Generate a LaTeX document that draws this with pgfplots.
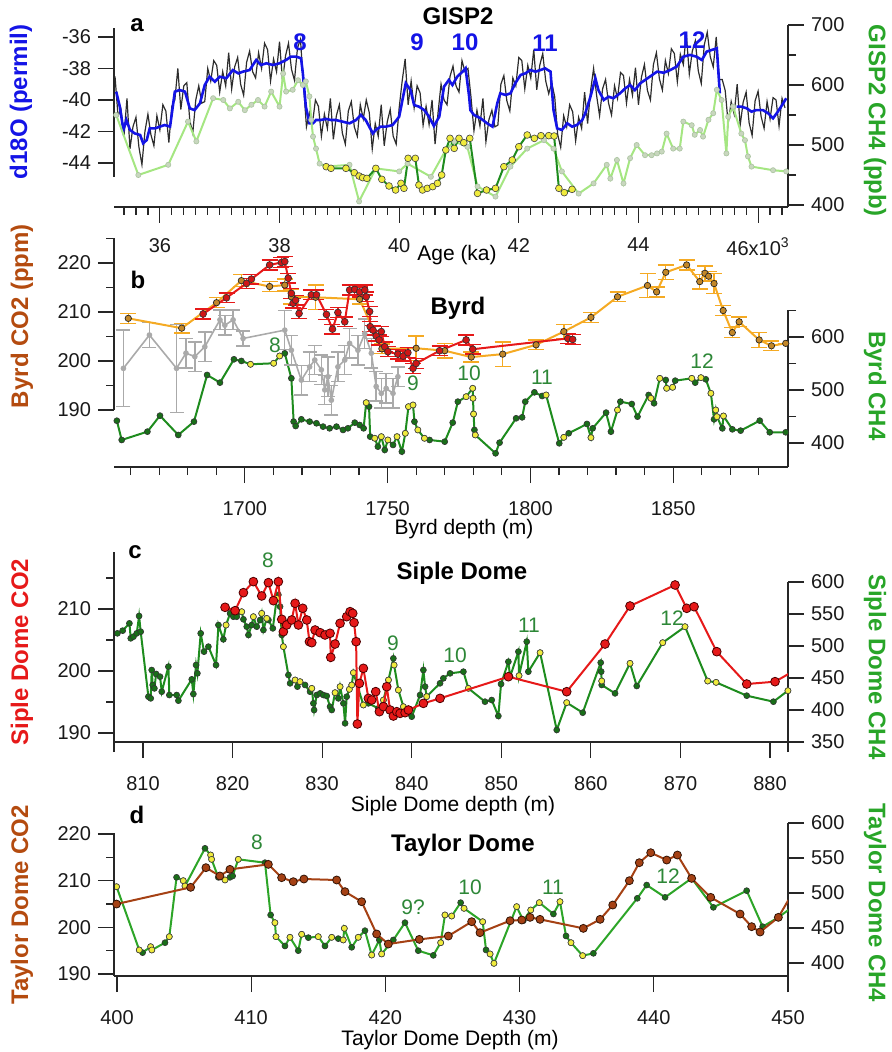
\documentclass[border=0pt]{standalone}
\usepackage{fontspec}
\setmainfont{Liberation Sans}
\usepackage{pgfplots}
\pgfplotsset{compat=1.18}
\definecolor{dblue}{RGB}{20,20,230}
\definecolor{noise}{RGB}{45,45,45}
\definecolor{lgreen}{RGB}{165,230,130}
\definecolor{lgmark}{RGB}{200,215,190}
\definecolor{lgedge}{RGB}{170,195,160}
\definecolor{dgreen}{RGB}{30,140,30}
\definecolor{dgmark}{RGB}{25,110,25}
\definecolor{ymark}{RGB}{240,235,60}
\definecolor{orng}{RGB}{245,170,35}
\definecolor{ormark}{RGB}{195,135,40}
\definecolor{rred}{RGB}{230,25,25}
\definecolor{gry}{RGB}{170,170,170}
\definecolor{brn}{RGB}{165,65,20}
\definecolor{brnlab}{RGB}{180,75,15}
\definecolor{labgreen}{RGB}{40,165,40}
\definecolor{numgreen}{RGB}{45,135,55}
\definecolor{tgreen}{RGB}{45,165,40}
\pgfplotsset{
  base/.style={scale only axis, width=337pt, tick align=outside,
    major tick length=8pt, minor tick length=4pt,
    every tick/.style={black!85, line width=0.6pt},
    axis line style={black!85, line width=0.6pt},
    tick label style={font=\fontsize{10}{12}\selectfont, black!90},
    /pgf/number format/assume math mode=true,
    /pgf/number format/1000 sep={}},
  lax/.style={base, axis x line*=bottom, axis y line*=left, xticklabel style={yshift=-4pt}},
  rax/.style={base, axis x line=none, axis y line*=right},
  dg/.style={dgreen, line width=1pt, mark=*, mark size=1.5pt, mark options={fill=dgmark, draw=black!80, line width=0.3pt}},
  ym/.style={only marks, mark=*, mark size=1.5pt, mark options={fill=ymark, draw=black!75, line width=0.3pt}},
}
\begin{document}
\begin{tikzpicture}
\useasboundingbox (0,0) rectangle (445.5pt,-526pt);
% ================= panel a =================
\begin{axis}[lax, at={(57pt,-103.5pt)}, anchor=south west, height=91pt,
  xmin=35.233, xmax=46.5, ymin=-46.79, ymax=-35.24,
  xtick={36,38,...,46}, xticklabels={36,38,40,42,44,{46x10\textsuperscript{3}}},
  minor xtick={35.4,35.6,...,46.4},
  ytick={-44,-42,-40,-38,-36},
  y axis line style={shorten <=15pt, shorten >=1.5pt}]
\addplot[noise, line width=0.6pt] coordinates {(35.25,-38.5)(35.30,-41.0)(35.35,-40.6)(35.40,-42.3)(35.45,-39.9)(35.50,-43.1)(35.55,-41.7)(35.60,-41.1)(35.65,-43.0)(35.70,-44.1)(35.75,-42.0)(35.80,-40.9)(35.85,-42.2)(35.90,-42.9)(35.95,-41.0)(36.00,-41.9)(36.05,-40.3)(36.10,-40.7)(36.15,-42.7)(36.20,-40.4)(36.25,-40.0)(36.30,-38.0)(36.35,-40.6)(36.40,-39.1)(36.45,-38.9)(36.50,-41.3)(36.55,-42.1)(36.60,-40.0)(36.65,-39.1)(36.70,-40.2)(36.75,-40.1)(36.80,-38.0)(36.85,-38.8)(36.90,-37.5)(36.95,-37.8)(37.00,-39.5)(37.05,-38.2)(37.10,-39.1)(37.15,-37.0)(37.20,-39.3)(37.25,-37.9)(37.30,-37.3)(37.35,-39.0)(37.40,-39.7)(37.45,-37.6)(37.50,-36.9)(37.55,-38.2)(37.60,-38.6)(37.65,-37.0)(37.70,-38.0)(37.75,-36.4)(37.80,-36.8)(37.85,-38.8)(37.90,-37.4)(37.95,-38.2)(38.00,-36.3)(38.05,-38.8)(38.10,-37.2)(38.15,-36.4)(38.20,-38.05)(38.25,-38.75)(38.30,-36.7)(38.35,-36.15)(38.40,-39.0)(38.45,-41.7)(38.50,-40.8)(38.55,-41.5)(38.60,-40.0)(38.65,-40.4)(38.70,-42.3)(38.75,-40.9)(38.80,-41.8)(38.85,-39.9)(38.90,-42.5)(38.95,-41.0)(39.00,-40.3)(39.05,-42.1)(39.10,-42.8)(39.15,-40.7)(39.20,-40.1)(39.25,-41.7)(39.30,-42.3)(39.35,-40.3)(39.40,-41.2)(39.45,-40.0)(39.50,-40.8)(39.55,-43.1)(39.60,-41.5)(39.65,-42.3)(39.70,-40.3)(39.75,-42.9)(39.80,-41.4)(39.85,-40.6)(39.90,-42.3)(39.95,-42.8)(40.00,-40.5)(40.05,-38.8)(40.10,-37.4)(40.15,-40.3)(40.20,-38.8)(40.25,-40.5)(40.30,-39.1)(40.35,-39.55)(40.40,-41.6)(40.45,-40.4)(40.50,-41.56)(40.55,-40.0)(40.60,-42.8)(40.65,-40.8)(40.70,-39.0)(40.75,-40.0)(40.80,-40.3)(40.85,-38.5)(40.90,-37.85)(40.95,-39.1)(41.00,-39.5)(41.05,-37.5)(41.10,-38.2)(41.15,-38.0)(41.20,-39.8)(41.25,-41.95)(41.30,-40.65)(41.35,-41.65)(41.40,-39.9)(41.45,-42.65)(41.50,-41.25)(41.55,-40.65)(41.60,-41.7)(41.65,-41.6)(41.70,-39.0)(41.75,-38.45)(41.80,-40.05)(41.85,-40.7)(41.90,-38.6)(41.95,-39.1)(42.00,-37.3)(42.05,-37.5)(42.10,-39.3)(42.15,-37.8)(42.20,-38.6)(42.25,-36.8)(42.30,-39.35)(42.35,-37.8)(42.40,-37.05)(42.45,-38.8)(42.50,-39.6)(42.55,-38.9)(42.60,-39.8)(42.65,-42.2)(42.70,-43.0)(42.75,-41.0)(42.80,-41.7)(42.85,-40.3)(42.90,-40.75)(42.95,-42.6)(43.00,-41.1)(43.05,-41.8)(43.10,-39.5)(43.15,-41.5)(43.20,-39.4)(43.25,-38.0)(43.30,-39.7)(43.35,-41.0)(43.40,-39.3)(43.45,-38.7)(43.50,-40.2)(43.55,-40.95)(43.60,-39.1)(43.65,-39.9)(43.70,-38.25)(43.75,-38.45)(43.80,-40.2)(43.85,-38.7)(43.90,-39.7)(43.95,-37.95)(44.00,-40.3)(44.05,-38.55)(44.10,-37.75)(44.15,-39.4)(44.20,-40.0)(44.25,-37.75)(44.30,-37.0)(44.35,-38.65)(44.40,-39.37)(44.45,-37.5)(44.50,-38.32)(44.55,-36.75)(44.60,-37.05)(44.65,-38.85)(44.70,-37.1)(44.75,-37.75)(44.80,-35.8)(44.85,-38.35)(44.90,-36.9)(44.95,-36.25)(45.00,-38.15)(45.05,-38.95)(45.10,-36.5)(45.15,-35.7)(45.20,-37.25)(45.25,-37.9)(45.30,-36.0)(45.35,-38.7)(45.40,-38.7)(45.45,-39.4)(45.50,-41.5)(45.55,-40.1)(45.60,-40.9)(45.65,-39.0)(45.70,-41.6)(45.75,-40.15)(45.80,-39.5)(45.85,-41.45)(45.90,-42.25)(45.95,-40.05)(46.00,-39.44)(46.05,-41.04)(46.10,-41.8)(46.15,-40.1)(46.20,-41.2)(46.25,-39.85)(46.30,-40.0)(46.35,-41.65)(46.40,-39.9)(46.45,-40.5)};
\addplot[dblue, line width=1.3pt] coordinates {(35.27,-39.47)(35.33,-40.42)(35.39,-41.90)(35.44,-41.27)(35.50,-41.90)(35.58,-42.12)(35.67,-42.22)(35.72,-42.75)(35.78,-42.54)(35.83,-41.80)(35.92,-41.80)(36.00,-41.69)(36.08,-41.59)(36.17,-41.69)(36.25,-39.47)(36.33,-39.37)(36.42,-39.47)(36.50,-40.53)(36.58,-40.64)(36.67,-40.21)(36.75,-39.05)(36.83,-38.52)(36.92,-38.84)(37.00,-38.52)(37.11,-38.62)(37.22,-38.10)(37.31,-38.31)(37.39,-38.20)(37.50,-38.10)(37.61,-37.46)(37.69,-37.78)(37.78,-37.67)(37.89,-37.78)(38.00,-37.67)(38.11,-37.46)(38.19,-37.25)(38.28,-37.25)(38.36,-37.35)(38.39,-38.31)(38.44,-40.42)(38.50,-41.48)(38.56,-41.48)(38.61,-41.27)(38.69,-41.27)(38.78,-41.20)(38.86,-41.27)(38.94,-41.27)(39.06,-41.38)(39.17,-41.48)(39.28,-41.27)(39.36,-40.95)(39.44,-41.27)(39.56,-42.12)(39.61,-41.90)(39.69,-41.69)(39.78,-41.69)(39.89,-41.59)(40.00,-41.06)(40.11,-38.94)(40.19,-39.37)(40.25,-40.32)(40.33,-40.42)(40.42,-40.64)(40.50,-41.06)(40.58,-41.65)(40.67,-41.06)(40.75,-39.15)(40.83,-38.73)(40.89,-39.05)(40.97,-38.52)(41.06,-38.20)(41.11,-37.99)(41.17,-39.79)(41.19,-40.64)(41.25,-40.95)(41.36,-41.16)(41.47,-41.48)(41.56,-41.69)(41.64,-40.21)(41.69,-39.58)(41.78,-39.68)(41.86,-39.58)(41.94,-38.94)(42.03,-38.41)(42.11,-38.31)(42.19,-38.10)(42.28,-38.20)(42.36,-38.10)(42.44,-37.99)(42.53,-38.20)(42.58,-40.64)(42.64,-41.80)(42.72,-41.90)(42.81,-41.48)(42.89,-41.69)(42.97,-41.59)(43.06,-41.27)(43.11,-40.85)(43.19,-39.89)(43.28,-38.62)(43.33,-39.37)(43.42,-40.00)(43.50,-39.79)(43.58,-39.89)(43.69,-39.58)(43.78,-39.26)(43.86,-39.05)(43.94,-39.37)(44.03,-38.94)(44.11,-38.73)(44.19,-38.52)(44.31,-38.20)(44.42,-38.27)(44.53,-38.10)(44.64,-37.88)(44.75,-37.25)(44.86,-37.14)(44.97,-37.25)(45.06,-37.46)(45.14,-36.93)(45.22,-36.83)(45.31,-36.72)(45.36,-39.58)};
\addplot[dblue, line width=1.3pt] coordinates {(45.64,-40.42)(45.72,-40.42)(45.81,-40.53)(45.89,-40.74)(45.97,-40.64)(46.08,-40.64)(46.17,-40.85)(46.25,-41.16)(46.33,-40.74)(46.42,-40.21)(46.47,-39.89)};
\end{axis}
\begin{axis}[rax, at={(57pt,-103.5pt)}, anchor=south west, height=91pt,
  xmin=35.233, xmax=46.5, ymin=396.7, ymax=700,
  ytick={400,500,600,700}, minor ytick={450,550,650}]
\addplot[lgreen, line width=1pt, mark=*, mark size=1.3pt, mark options={fill=lgmark, draw=lgedge, line width=0.3pt}] coordinates {(35.27,550)(35.64,450)(36.14,467)(36.47,539)(36.61,506)(36.89,578)(37.06,575)(37.17,561)(37.31,572)(37.42,558)(37.53,567)(37.64,575)(37.75,564)(37.86,589)(38.00,564)(38.06,619)(38.11,589)(38.22,592)(38.31,608)(38.39,600)(38.44,606)(38.50,581)(38.53,542)(38.56,514)(38.61,494)(38.67,469)(38.78,464)(39.17,467)(39.33,406)(39.61,461)(40.00,456)(40.14,469)(40.53,447)(40.78,492)(40.92,506)(41.14,497)(41.31,431)(41.61,414)(41.86,464)(42.14,494)(42.42,508)(42.58,494)(42.72,456)(43.00,419)(43.25,436)(43.47,467)(43.53,444)(43.64,475)(43.75,436)(43.86,478)(43.97,500)(44.11,483)(44.22,483)(44.31,486)(44.39,489)(44.47,519)(44.58,494)(44.69,494)(44.75,539)(44.89,533)(44.94,517)(45.03,525)(45.08,514)(45.17,542)(45.25,553)(45.31,592)(45.39,575)(45.47,486)(45.50,547)(45.58,564)(45.72,519)(45.78,508)(45.83,481)(45.89,464)(46.25,458)(46.47,456)};
\addplot[dgreen, line width=1pt, mark=*, mark size=1.7pt, mark options={fill=ymark, draw=black!75, line width=0.3pt}] coordinates {(38.78,463.9)(38.86,461.1)(39.11,461.1)(39.25,453.9)(39.33,448.3)(39.39,445.6)(39.46,444.4)(39.61,461.1)(39.71,442.8)(39.83,431.7)(39.94,425.0)(40.03,436.1)(40.08,427.8)(40.15,477.8)(40.27,477.8)(40.33,433.3)(40.39,425.0)(40.47,427.8)(40.56,430.6)(40.64,436.1)(40.71,450.0)(40.78,491.7)(40.85,511.1)(40.92,494.4)(41.00,511.1)(41.08,503.9)(41.18,511.1)(41.31,419.4)(41.46,425.0)(41.61,427.8)(41.75,463.9)(41.89,475.0)(42.00,497.2)(42.14,516.7)(42.26,511.1)(42.37,515.6)(42.50,515.6)(42.59,515.0)(42.67,427.8)(42.76,420.6)(42.89,426.1)};
\end{axis}
% ================= panel b =================
\begin{axis}[rax, at={(57pt,-233.5pt)}, anchor=south west, height=114.5pt,
  xmin=1654.2, xmax=1890.2, ymin=354.7, ymax=786.8,
  ytick={400,500,600}, minor ytick={350,450,550,650},
  y axis line style={shorten >=36pt}]
\addplot[dg] coordinates {(1655.2,442)(1656.9,405.7)(1665.9,421.4)(1670.3,451.6)(1676.7,415.1)(1682.2,440.3)(1686.8,528.4)(1691.3,513.9)(1696.2,557.9)(1698.8,554.8)(1702.0,548.5)(1710.1,550.4)(1712.2,564.2)(1714.0,569.2)(1716.3,522.1)(1717.1,440.3)(1717.8,432)(1719.8,444.7)(1722.7,440.3)(1725.1,437.2)(1727.4,430.9)(1729.7,427.7)(1732.1,430.9)(1734.4,424.6)(1736.1,427.7)(1738.5,438.4)(1740.2,434.0)(1741.6,427.7)(1742.5,476.1)(1743.5,468.6)(1743.9,412.0)(1745.5,408.9)(1746.6,393.1)(1747.8,412.0)(1749.0,386.8)(1750.1,405.7)(1751.9,396.3)(1753.3,412.0)(1755.0,383.7)(1756.2,418.3)(1757.3,468.6)(1758.9,471.7)(1759.4,440.3)(1760.6,424.6)(1762.9,408.9)(1764.7,405.7)(1770.0,402.5)(1772.8,438.4)(1774.6,478.0)(1777.5,487.4)(1779.8,503.2)(1779.9,484.3)(1780.1,454.7)(1780.4,424.6)(1780.7,415.1)(1787.8,380.5)(1789.2,400.6)(1795.0,446.6)(1797.1,448.4)(1798.2,478.0)(1801.4,495.6)(1804.1,488.7)(1805.5,490.6)(1810.1,399.4)(1811.7,410.7)(1813.4,418.3)(1819.8,435.9)(1821.2,410.1)(1821.8,427.7)(1826.5,457.3)(1828.2,421.4)(1830.5,462.3)(1831.5,478.0)(1835.5,473.6)(1837.5,449.7)(1841.4,490.6)(1842.2,484.3)(1843.3,474.9)(1845.3,522.0)(1847.4,518.9)(1847.7,503.2)(1849.8,505.1)(1850.7,517.6)(1856.5,522.0)(1857.7,513.9)(1859.7,523.3)(1861.4,520.2)(1863.2,493.7)(1864.3,444.7)(1864.9,462.3)(1865.3,449.7)(1867.2,427.7)(1867.6,451.0)(1870.7,425.8)(1873.6,423.3)(1880.3,442.2)(1883.8,420.2)(1889.4,420.2)};
\addplot[ym] coordinates {(1702.0,548.5)(1710.1,550.4)(1712.2,564.2)(1742.5,476.1)(1745.5,408.9)(1747.8,412.0)(1750.1,405.7)(1753.3,412.0)(1756.2,418.3)(1757.3,468.6)(1758.9,471.7)(1760.6,424.6)(1762.9,408.9)(1777.5,487.4)(1779.8,503.2)(1779.9,484.3)(1780.1,454.7)(1780.7,415.1)(1805.5,490.6)(1811.7,410.7)(1821.2,410.1)(1830.5,462.3)(1842.2,484.3)(1845.3,522.0)(1847.7,503.2)(1849.8,505.1)(1856.5,522.0)(1859.7,523.3)(1863.2,493.7)(1864.9,462.3)(1865.3,449.7)(1867.6,451.0)};
\end{axis}
\begin{axis}[lax, at={(57pt,-233.5pt)}, anchor=south west, height=114.5pt,
  xmin=1654.2, xmax=1890.2, ymin=178.37, ymax=225.1,
  xticklabel style={yshift=-1.5pt},
  xtick={1700,1750,1800,1850}, minor xtick={1660,1670,...,1880},
  ytick={190,200,210,220}, minor ytick={195,205,215,225},
  y axis line style={shorten <=28.5pt}]
\addplot[gry, line width=0.8pt, mark=*, mark size=1pt, mark options={fill=gry, draw=gry},
  error bars/.cd, y dir=both, y explicit, error bar style={gry, line width=0.7pt},
  error mark options={rotate=90, mark size=3.5pt, gry, line width=0.7pt}]
  coordinates {(1657.5,198.5)+-(0,7.8)(1666.6,205.3)+-(0,2.5)(1676.1,198.5)+-(0,9)(1679.4,201.6)+-(0,3)(1682.5,200.9)+-(0,3)(1686.0,202.9)+-(0,3)(1691.3,208.4)+-(0,2)(1693.0,207.3)+-(0,2)(1695.9,208.4)+-(0,2)(1699.4,204.6)+-(0,1.5)(1714.0,206.3)+-(0,4)(1716.3,202.2)+-(0,3)(1719.8,196.1)+-(0,3)(1722.7,198.8)+-(0,3)(1724.5,200.2)+-(0,3)(1726.8,198.2)+-(0,3)(1728.0,194.1)+-(0,3)(1729.1,196.8)+-(0,4)(1730.3,192.0)+-(0,3)(1732.6,198.8)+-(0,3)(1735.0,200.2)+-(0,3)(1736.7,203.6)+-(0,3)(1739.6,202.2)+-(0,3)(1742.0,205.6)+-(0,3)(1744.3,201.6)+-(0,3)(1746.0,194.8)+-(0,3)(1747.8,193.4)+-(0,3)(1749.5,194.4)+-(0,3)(1751.9,193.4)+-(0,3)(1753.6,196.8)+-(0,2)};
\addplot[orng, line width=1pt, mark=*, mark size=1.6pt, mark options={fill=ormark, draw=black!85, line width=0.35pt},
  error bars/.cd, y dir=both, y explicit, error bar style={orng, line width=0.7pt},
  error mark options={rotate=90, mark size=4pt, orng, line width=0.7pt}]
  coordinates {(1659.2,208.7)+-(0,1.0)(1677.9,206.7)+-(0,1.0)(1690.1,211.9)+-(0,1.0)(1698.8,216.4)+-(0,1.2)(1708.7,215.2)+-(0,1.0)(1714.0,215.5)+-(0,1.2)(1716.3,213.1)+-(0,1.5)(1724.8,213.0)+-(0,2.5)(1740.2,212.6)+-(0,1.0)(1748.0,202.5)+-(0,1.0)(1760.0,202.6)+-(0,2.5)(1770.0,202.1)+-(0,1.5)(1779.3,200.8)+-(0,1.0)(1790.3,201.4)+-(0,2.5)(1802.0,203.3)+-(0,1.0)(1811.7,206.0)+-(0,1.5)(1821.2,208.9)+-(0,1.0)(1830.5,213.1)+-(0,1.0)(1841.0,215.4)+-(0,2.5)(1844.2,214.1)+-(0,1.0)(1847.4,218.1)+-(0,1.5)(1854.7,219.6)+-(0,1.0)(1859.3,216.2)+-(0,1.5)(1861.1,217.9)+-(0,1.5)(1862.4,217.3)+-(0,1.0)(1864.3,215.8)+-(0,2.0)(1867.5,210.3)+-(0,1.0)(1870.7,205.8)+-(0,1.0)(1873.1,208.0)+-(0,1.0)(1880.1,204.3)+-(0,1.5)(1884.4,203.1)+-(0,1.0)(1889.4,203.6)+-(0,0)};
\addplot[rred, line width=1pt, mark=*, mark size=1.7pt, mark options={fill=rred!90!black, draw=black!80, line width=0.35pt},
  error bars/.cd, y dir=both, y explicit, error bar style={rred, line width=0.7pt},
  error mark options={rotate=90, mark size=4pt, rred, line width=0.7pt}]
  coordinates {(1685.4,209.6)+-(0,1)(1693.6,212.9)+-(0,1)(1700.6,215.85)+-(0,1)(1702.3,216.7)+-(0,1)(1708.7,219.6)+-(0,1)(1712.8,220.1)+-(0,1)(1714.0,220.3)+-(0,1)(1715.2,216.9)+-(0,1)(1716.3,213.8)+-(0,1)(1716.9,211.8)+-(0,1)(1717.8,212.4)+-(0,1)(1719.0,209.7)+-(0,1)(1723.3,213.5)+-(0,1)(1725.1,213.5)+-(0,1)(1728.6,209.5)+-(0,1)(1730.7,206.5)+-(0,1)(1732.6,209.9)+-(0,1)(1735.0,208.0)+-(0,1)(1736.7,214.5)+-(0,1)(1738.5,214.6)+-(0,1)(1740.2,214.1)+-(0,1)(1742.0,214.5)+-(0,1)(1742.5,213.1)+-(0,1)(1743.7,210.1)+-(0,1)(1743.9,207.0)+-(0,1)(1744.9,206.3)+-(0,1)(1746.0,205.1)+-(0,1)(1747.0,204.3)+-(0,1)(1747.8,206.0)+-(0,1)(1749.0,202.9)+-(0,1)(1750.1,201.9)+-(0,1)(1753.6,201.4)+-(0,1)(1755.4,201.0)+-(0,1)(1757.1,201.7)+-(0,1)(1758.9,198.5)+-(0,1)(1760.0,199.5)+-(0,1)(1768.2,202.1)+-(0,1)(1777.5,204.3)+-(0,1)(1779.8,202.4)+-(0,1)(1813.1,204.6)+-(0,1)(1814.8,204.4)+-(0,1)};
\end{axis}
% ================= panel c =================
\begin{axis}[rax, at={(57pt,-371pt)}, anchor=south west, height=95pt,
  xmin=806.76, xmax=882.01, ymin=350, ymax=646.9,
  ytick={350,400,...,600},
  y axis line style={shorten >=15pt, shorten <=-5pt}]
\addplot[dg] coordinates {(807.14,519.8)(807.73,524.0)(808.48,535.4)(808.63,512.0)(808.93,514.6)(809.30,519.8)(809.56,546.9)(809.74,522.4)(810.60,420.8)(810.86,418.2)(810.97,462.5)(811.08,439.1)(811.27,433.8)(811.46,456.3)(811.90,452.1)(812.09,428.6)(812.83,467.7)(812.94,423.4)(813.76,423.4)(813.95,414.6)(815.44,447.9)(815.62,425.0)(815.92,470.3)(816.07,457.3)(816.44,519.8)(816.81,491.2)(817.30,499.0)(818.15,470.3)(818.42,532.8)(818.97,510.4)(819.27,532.8)(819.72,551.0)(820.09,545.8)(820.46,545.8)(821.02,553.6)(821.21,541.7)(821.58,530.2)(821.77,517.2)(822.14,532.8)(822.32,545.8)(822.70,530.2)(823.07,540.6)(823.25,551.0)(823.44,525.0)(823.81,543.2)(824.00,540.6)(824.49,527.6)(824.93,574.5)(825.11,580.0)(825.30,561.5)(825.49,517.2)(825.67,499.0)(826.23,454.7)(826.42,441.7)(826.98,446.9)(827.24,436.5)(827.53,444.3)(828.09,439.1)(828.65,428.6)(828.84,433.8)(829.02,410.4)(829.10,400.0)(829.39,423.4)(829.77,426.0)(830.14,423.4)(830.51,421.9)(830.88,405.2)(831.07,400.0)(831.44,427.1)(831.81,418.2)(832.00,436.5)(832.37,410.4)(832.56,379.2)(832.74,420.8)(833.04,432.3)(833.30,439.1)(833.49,458.3)(834.60,407.8)(835.16,410.4)(836.28,402.6)(836.84,415.6)(837.40,446.9)(837.95,480.7)(838.03,470.3)(838.51,431.2)(839.07,405.2)(840.00,389.6)(840.93,423.4)(841.30,462.5)(841.49,436.5)(841.67,421.0)(843.16,441.7)(843.53,449.5)(844.28,457.3)(845.77,459.9)(846.32,433.9)(848.18,413.0)(848.93,415.6)(849.67,390.6)(849.97,440.6)(850.79,475.5)(850.98,452.1)(851.91,491.2)(851.98,453.7)(852.84,506.8)(853.02,459.9)(854.33,489.6)(856.19,368.8)(857.30,411.5)(859.09,395.8)(861.10,474.0)(861.15,460.0)(861.21,445.3)(861.21,439.1)(862.70,426.0)(864.37,472.9)(865.12,437.5)(868.02,505.2)(870.51,530.2)(873.04,445.3)(873.98,443.2)(877.40,422.4)(880.38,413.0)(882.0,430.2)};
\addplot[ym] coordinates {(819.27,532.8)(821.02,553.6)(822.32,545.8)(823.25,551.0)(823.81,543.2)(824.93,574.5)(825.67,499.0)(826.98,446.9)(827.53,444.3)(828.84,433.8)(831.44,427.1)(832.00,436.5)(833.04,432.3)(833.30,439.1)(833.49,458.3)(834.60,407.8)(836.84,415.6)(837.40,446.9)(838.03,470.3)(838.51,431.2)(839.07,405.2)(841.67,421.0)(846.32,433.9)(851.98,453.7)(854.33,489.6)(857.30,411.5)(861.21,445.3)(864.37,472.9)(868.02,505.2)(870.51,530.2)(873.04,445.3)(873.98,443.2)(882.0,430.2)};
\end{axis}
\begin{axis}[lax, at={(57pt,-371pt)}, anchor=south west, height=95pt,
  xmin=806.76, xmax=882.01, ymin=188.55, ymax=219.19,
  xticklabel style={yshift=-1.5pt},
  xtick={810,820,...,880}, ytick={190,200,210}, minor ytick={195,205,215},
  y axis line style={shorten <=-5pt}]
\addplot[rred, line width=1pt, mark=*, mark size=2.2pt, mark options={fill=rred, draw=black!70!red, line width=0.4pt}] coordinates {(819.16,210.27)(820.28,209.73)(821.21,212.63)(822.32,214.41)(823.25,212.10)(824.00,214.25)(824.56,211.34)(825.11,214.41)(825.49,208.33)(825.67,206.34)(826.04,207.42)(826.60,208.23)(826.98,210.91)(827.35,207.42)(827.83,210.11)(828.28,208.23)(828.58,204.73)(828.84,204.57)(829.21,206.61)(829.77,206.18)(830.32,205.81)(830.88,206.08)(830.96,202.20)(831.44,204.35)(832.00,207.69)(832.74,208.76)(833.12,209.57)(833.41,209.30)(833.56,207.80)(833.79,204.73)(833.93,191.45)(834.16,198.01)(834.60,200.43)(835.16,195.59)(835.53,195.32)(835.98,196.67)(836.39,193.44)(836.84,194.25)(837.21,197.47)(837.58,193.71)(837.95,192.74)(838.33,193.44)(838.70,193.17)(839.26,193.28)(839.63,193.71)(841.30,194.78)(843.16,195.59)(850.79,199.08)(857.30,196.66)(861.58,204.35)(864.37,210.48)(869.40,213.87)(870.70,210.11)(871.52,210.37)(874.05,203.12)(877.40,197.90)(880.56,198.28)(882.05,199.51)};
\end{axis}
% ================= panel d =================
\begin{axis}[rax, at={(57pt,-488pt)}, anchor=south west, height=76.5pt,
  xmin=399.78, xmax=450, ymin=381.4, ymax=600,
  ytick={400,450,...,600},
  y axis line style={shorten <=-8pt}]
\addplot[tgreen, line width=1pt, mark=*, mark size=1.5pt, mark options={fill=dgmark, draw=black!80, line width=0.3pt}] coordinates {(399.97,509.0)(401.66,418.6)(401.91,414.8)(402.51,423.3)(402.6,418.6)(403.58,429.0)(403.90,437.6)(404.44,522.4)(404.94,517.6)(405.07,510.0)(406.56,563.8)(406.98,554.3)(407.05,548.1)(407.55,522.4)(408.05,518.6)(408.42,522.4)(408.62,524.3)(409.04,548.1)(411.03,543.3)(411.45,468.6)(411.77,457.6)(411.85,437.6)(412.52,424.3)(412.89,436.7)(413.51,417.6)(413.76,441.0)(414.26,436.2)(415.0,437.6)(415.5,424.3)(416.0,436.7)(416.49,434.8)(416.86,432.9)(416.94,449.5)(417.49,422.4)(417.98,436.7)(418.48,446.2)(418.98,411.4)(419.55,432.9)(419.72,412.9)(420.59,432.9)(421.46,457.6)(422.45,417.6)(423.57,410.9)(424.12,429.0)(424.44,468.6)(424.94,467.1)(425.61,486.2)(425.86,478.1)(427.25,459.0)(427.50,418.6)(427.80,412.9)(428.09,399.5)(429.78,480.5)(430.28,460.5)(430.83,475.7)(431.47,486.2)(432.52,470.0)(433.01,487.6)(433.46,438.6)(433.83,429.0)(434.70,410.5)(435.50,413.8)(438.77,492.4)(439.47,511.4)(440.84,493.8)(442.82,521.0)(444.44,479.5)(446.92,503.3)(448.11,451.9)(449.28,465.2)(450.03,475.7)};
\addplot[ym] coordinates {(399.97,509.0)(401.66,418.6)(402.51,423.3)(402.6,418.6)(403.90,437.6)(404.94,517.6)(405.07,510.0)(406.98,554.3)(407.05,548.1)(408.05,518.6)(409.04,548.1)(411.77,457.6)(411.85,437.6)(412.89,436.7)(413.76,441.0)(415.0,437.6)(416.0,436.7)(416.86,432.9)(416.94,449.5)(417.98,436.7)(418.98,411.4)(419.72,412.9)(424.12,429.0)(424.44,468.6)(424.94,467.1)(425.86,478.1)(427.25,459.0)(427.80,412.9)(428.09,399.5)(429.78,480.5)(430.83,475.7)(431.47,486.2)(433.01,487.6)(433.83,429.0)(434.70,410.5)};
\end{axis}
\begin{axis}[lax, at={(57pt,-488pt)}, anchor=south west, height=76.5pt,
  xmin=399.78, xmax=450, ymin=189.57, ymax=222.35,
  xticklabel style={yshift=-1.5pt},
  xtick={400,410,...,450}, ytick={190,200,210,220}, minor ytick={195,205,215},
  y axis line style={shorten >=5pt}]
\addplot[brn, line width=1pt, mark=*, mark size=2pt, mark options={fill=brn, draw=black!70!brn, line width=0.4pt}] coordinates {(399.97,204.99)(405.49,208.57)(406.63,212.78)(407.67,211.0)(408.42,212.42)(411.28,213.49)(412.27,210.64)(413.14,209.78)(413.93,210.35)(416.37,210.14)(416.99,207.64)(418.23,205.49)(419.35,198.57)(420.22,196.42)(422.53,197.42)(424.69,198.14)(426.43,201.21)(427.05,198.85)(429.29,201.42)(430.16,201.57)(430.78,202.14)(431.52,201.71)(434.75,199.78)(436.0,201.71)(436.94,204.78)(438.18,209.99)(438.92,213.85)(439.77,215.99)(440.96,214.42)(441.76,215.49)(442.82,210.49)(444.24,206.42)(446.43,202.85)(447.29,200.14)(447.92,199.0)(449.28,202.14)(450.03,205.85)};
\end{axis}
% ================= text =================
\begin{scope}[x=0.5pt, y=-0.5pt]
\def\bt{\bfseries\fontsize{12}{14}\selectfont}
\def\rt{\fontsize{10.5}{12}\selectfont}
\node[font=\bt] at (137,25) {a};
\node[font=\bt] at (458,16) {GISP2};
\node[font=\bt, text=dblue] at (300,42) {8};
\node[font=\bt, text=dblue] at (417,42) {9};
\node[font=\bt, text=dblue] at (465,42) {10};
\node[font=\bt, text=dblue] at (545,43) {11};
\node[font=\bt, text=dblue] at (692,40) {12};
\node[font=\rt] at (457,255) {Age (ka)};
\node[font=\bt, text=dblue, rotate=90] at (21,102) {d18O (permil)};
\node[font=\bt, text=labgreen, rotate=-90] at (875,121) {GISP2 CH4 (ppb)};
\node[font=\bt] at (138,280) {b};
\node[font=\bt] at (458,308) {Byrd};
\node[font=\rt, text=numgreen] at (275,345) {8};
\node[font=\rt, text=numgreen] at (413,383) {9};
\node[font=\rt, text=numgreen] at (469,373) {10};
\node[font=\rt, text=numgreen] at (542,377) {11};
\node[font=\rt, text=numgreen] at (702,361) {12};
\node[font=\rt] at (464,529) {Byrd depth (m)};
\node[font=\bt, text=brnlab, rotate=90] at (22,316) {Byrd CO2 (ppm)};
\node[font=\bt, text=labgreen, rotate=-90] at (875,386) {Byrd CH4};
\node[font=\bt] at (135,552) {c};
\node[font=\bt] at (462,573) {Siple Dome};
\node[font=\rt, text=numgreen] at (268,560) {8};
\node[font=\rt, text=numgreen] at (393,643) {9};
\node[font=\rt, text=numgreen] at (455,655) {10};
\node[font=\rt, text=numgreen] at (529,625) {11};
\node[font=\rt, text=numgreen] at (672,618) {12};
\node[font=\rt] at (453,806) {Siple Dome depth (m)};
\node[font=\bt, text=rred, rotate=90] at (22,652) {Siple Dome CO2};
\node[font=\bt, text=labgreen, rotate=-90] at (875,667) {Siple Dome CH4};
\node[font=\bt] at (137,815) {d};
\node[font=\bt] at (463,845) {Taylor Dome};
\node[font=\rt, text=numgreen] at (257,842) {8};
\node[font=\rt, text=numgreen] at (413,907) {9?};
\node[font=\rt, text=numgreen] at (470,887) {10};
\node[font=\rt, text=numgreen] at (553,887) {11};
\node[font=\rt, text=numgreen] at (668,876) {12};
\node[font=\rt] at (450,1040) {Taylor Dome Depth (m)};
\node[font=\bt, text=brnlab, rotate=90] at (22,905) {Taylor Dome CO2};
\node[font=\bt, text=labgreen, rotate=-90] at (875,903) {Taylor Dome CH4};
\end{scope}
\end{tikzpicture}
\end{document}
